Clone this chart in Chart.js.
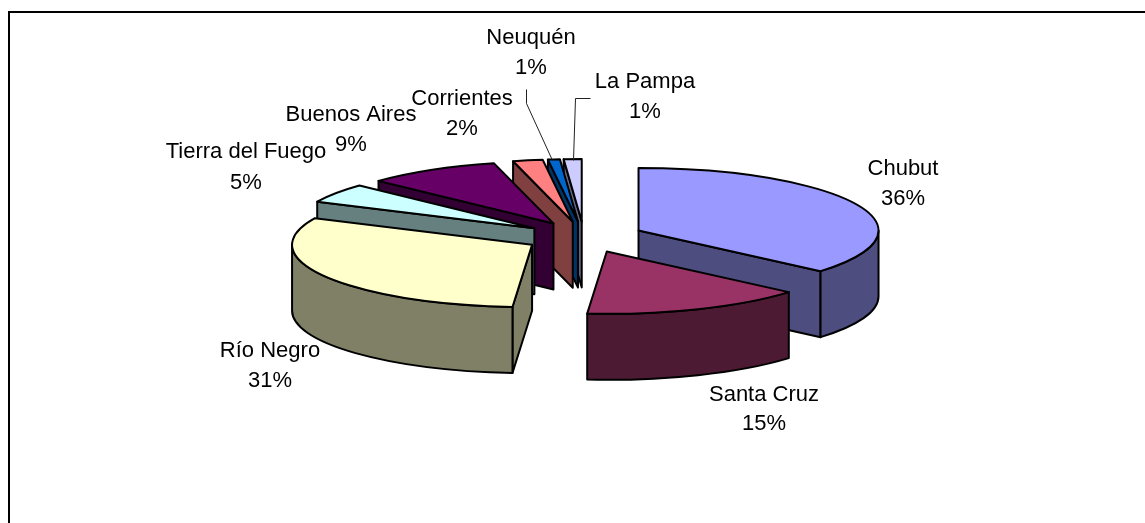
<!DOCTYPE html>
<html>
<head>
<meta charset="utf-8">
<title>Pie</title>
<script src="https://cdn.jsdelivr.net/npm/chart.js@4"></script>
<style>
  html, body { margin: 0; padding: 0; background: #fff; }
  canvas { display: block; }
</style>
</head>
<body>
<canvas id="myChart" width="1145" height="523"></canvas>
<script>
var categories = ["Chubut", "Santa Cruz", "Río Negro", "Tierra del Fuego", "Buenos Aires", "Corrientes", "Neuquén", "La Pampa"];
var shares = [36.3, 15, 30.7, 5, 9, 2, 0.8, 1.2];

var topColors = ["#9999FF", "#993366", "#FFFFCC", "#CCFFFF", "#660066", "#FF8080", "#0066CC", "#CCCCFF"];
var wallColors = ["#4D4D80", "#4D1A33", "#808066", "#668080", "#330033", "#804040", "#003366", "#666680"];

// centre of each two line label, x then y of first and second line
var labelSpots = [[903, 169, 199], [764, 395, 424], [270, 351, 381], [246, 152, 183],
                  [351, 115, 145], [462, 99, 129], [531, 38, 68], [645, 82, 112]];
var leaders = [
  [[526, 89], [526, 103], [552, 160]],
  [[590, 98], [575, 98], [573, 160]]
];

var tilt = 0.26;
var depth = 66;
var explode = 60;

// chart.js has no 3d pie, so paint its arcs back to front with a squashed ctx
var pie3d = {
  id: "pie3d",
  beforeDraw: function (chart) {
    var c = chart.ctx;
    c.save();
    c.fillStyle = "#fff";
    c.fillRect(0, 0, chart.width, chart.height);
    c.strokeStyle = "#000";
    c.lineWidth = 2;
    c.beginPath();
    c.moveTo(9, chart.height);
    c.lineTo(9, 12);
    c.lineTo(chart.width, 12);
    c.stroke();
    c.restore();
  },
  beforeDatasetsDraw: function (chart) {
    var c = chart.ctx;
    var slices = chart.getDatasetMeta(0).data.map(function (arc, i) {
      var p = arc.getProps(["x", "y", "startAngle", "endAngle", "outerRadius"], true);
      var mid = (p.startAngle + p.endAngle) / 2;
      return {
        arc: arc, p: p, i: i,
        cx: p.x + Math.cos(mid) * explode,
        cy: p.y + Math.sin(mid) * explode * tilt
      };
    });
    slices.sort(function (a, b) { return a.cy - b.cy; });

    c.save();
    c.strokeStyle = "#000";
    c.lineWidth = 2;
    c.lineJoin = "round";
    slices.forEach(function (s) {
      var p = s.p, r = p.outerRadius, ry = r * tilt;
      c.fillStyle = wallColors[s.i];

      // flat cut walls, only those turned to the viewer
      [[p.endAngle, 1], [p.startAngle, -1]].forEach(function (edge) {
        if (Math.cos(edge[0]) * edge[1] > 0.01) {
          var ex = s.cx + Math.cos(edge[0]) * r;
          var ey = s.cy + Math.sin(edge[0]) * ry;
          c.beginPath();
          c.moveTo(s.cx, s.cy);
          c.lineTo(ex, ey);
          c.lineTo(ex, ey + depth);
          c.lineTo(s.cx, s.cy + depth);
          c.closePath();
          c.fill();
          c.stroke();
        }
      });

      // round wall, front half of the ellipse
      var a0 = Math.max(p.startAngle, 0);
      var a1 = Math.min(p.endAngle, Math.PI);
      if (a1 > a0) {
        c.beginPath();
        c.ellipse(s.cx, s.cy, r, ry, 0, a0, a1);
        c.ellipse(s.cx, s.cy + depth, r, ry, 0, a1, a0, true);
        c.closePath();
        c.fill();
        c.stroke();
      }

      // top face is the library's own arc
      c.save();
      c.translate(s.cx, s.cy);
      c.scale(1, tilt);
      c.translate(-p.x, -p.y);
      s.arc.draw(c);
      c.restore();

      c.beginPath();
      c.moveTo(s.cx, s.cy);
      c.ellipse(s.cx, s.cy, r, ry, 0, p.startAngle, p.endAngle);
      c.closePath();
      c.stroke();
    });
    c.restore();
    return false;
  },
  afterDraw: function (chart) {
    var c = chart.ctx;
    c.save();
    c.strokeStyle = "#222";
    c.lineWidth = 1;
    leaders.forEach(function (pts) {
      c.beginPath();
      pts.forEach(function (pt, k) {
        if (k === 0) c.moveTo(pt[0] + 0.5, pt[1] + 0.5);
        else c.lineTo(pt[0] + 0.5, pt[1] + 0.5);
      });
      c.stroke();
    });
    c.fillStyle = "#000";
    c.font = "22px 'Liberation Sans'";
    c.textAlign = "center";
    c.textBaseline = "middle";
    categories.forEach(function (name, i) {
      var spot = labelSpots[i];
      c.fillText(name, spot[0], spot[1]);
      c.fillText(Math.round(shares[i]) + "%", spot[0], spot[2]);
    });
    c.restore();
  }
};

var ctx = document.getElementById("myChart").getContext("2d");
var myChart = new Chart(ctx, {
  type: "pie",
  data: {
    labels: categories,
    datasets: [
      {
        data: shares,
        backgroundColor: topColors,
        borderWidth: 0
      }
    ]
  },
  options: {
    responsive: false,
    animation: false,
    radius: 240,
    layout: { padding: { left: 23, bottom: 49 } },
    plugins: {
      legend: { display: false },
      tooltip: { enabled: false }
    }
  },
  plugins: [pie3d]
});
</script>
</body>
</html>
